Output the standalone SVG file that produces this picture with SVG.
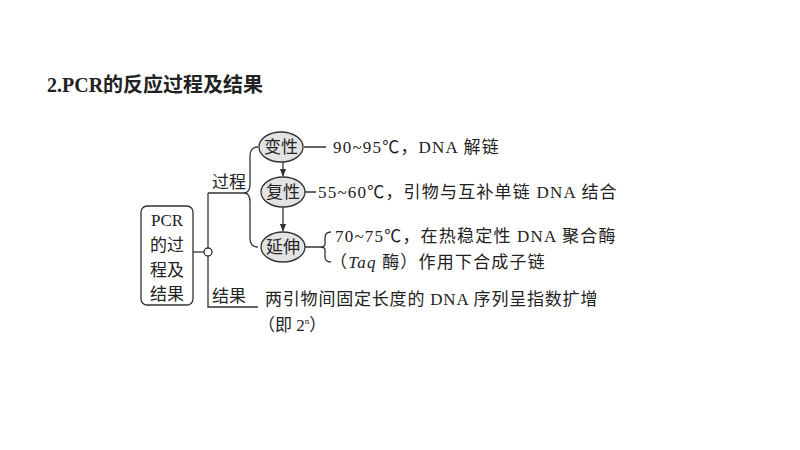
<svg xmlns="http://www.w3.org/2000/svg" width="800" height="450" viewBox="0 0 800 450">
<style>
text{font-family:"Liberation Serif","Noto Sans CJK SC",serif;font-size:17px;fill:#222}
.d{letter-spacing:1.2px}
.l{stroke:#333;stroke-width:1.3;fill:none}
.e{fill:#e3e3e3;stroke:#333;stroke-width:1.3}
</style>
<defs><marker id="a" viewBox="0 0 10 10" refX="9" refY="5" markerWidth="6" markerHeight="6" orient="auto"><path d="M0,1 L10,5 L0,9Z" fill="#333"/></marker></defs>
<rect width="800" height="450" fill="#fff"/>
<text x="47" y="92" style="font-size:20px;font-weight:bold">2.PCR的反应过程及结果</text>
<g id="root"><rect x="141" y="206" width="52" height="99" rx="6" class="l"/>
<text x="167" y="226" text-anchor="middle">PCR</text>
<text x="167" y="251" text-anchor="middle">的过</text>
<text x="167" y="276" text-anchor="middle">程及</text>
<text x="167" y="300" text-anchor="middle">结果</text></g>
<g id="connectors">
<path class="l" d="M193,252 H204"/>
<circle cx="208" cy="252" r="4" fill="#fff" stroke="#333" stroke-width="1.3"/>
<path class="l" d="M208,193 V248 M208,256 V307 H258 M208,193 H245"/>
<path class="l" d="M258,147 Q250,147 250,156 V184 Q250,193 244,193 Q250,193 250,202 V238 Q250,247 258,247"/>
<path class="l" d="M283,162 V176" marker-end="url(#a)"/>
<path class="l" d="M283,207 V231" marker-end="url(#a)"/>
<path class="l" d="M304,147 H326 M305,192 H316 M305,247 H320"/>
<path class="l" d="M331,232 Q325,232 325,238 V244 Q325,247 320,247 Q325,247 325,250 V257 Q325,262 331,262"/>
</g>
<text x="212" y="188">过程</text>
<text x="212" y="302">结果</text>
<g id="bx"><ellipse cx="281" cy="147" rx="22" ry="15" class="e"/><text x="281" y="153" text-anchor="middle">变性</text></g>
<g id="fx"><ellipse cx="283" cy="192" rx="22" ry="15" class="e"/><text x="283" y="198" text-anchor="middle">复性</text></g>
<g id="ys"><ellipse cx="283" cy="247" rx="22" ry="15" class="e"/><text x="283" y="253" text-anchor="middle">延伸</text></g>
<text class="d" x="333" y="153">90~95℃，DNA 解链</text>
<text class="d" x="318" y="198">55~60℃，引物与互补单链 DNA 结合</text>
<text class="d" x="335" y="242">70~75℃，在热稳定性 DNA 聚合酶</text>
<text class="d" x="330" y="268">（<tspan font-style="italic">Taq</tspan> 酶）作用下合成子链</text>
<text x="265" y="305" style="letter-spacing:0.8px">两引物间固定长度的 DNA 序列呈指数扩增</text>
<text x="258" y="331">（即 2<tspan font-size="9" dy="-7">n</tspan><tspan dy="7">）</tspan></text>
</svg>
